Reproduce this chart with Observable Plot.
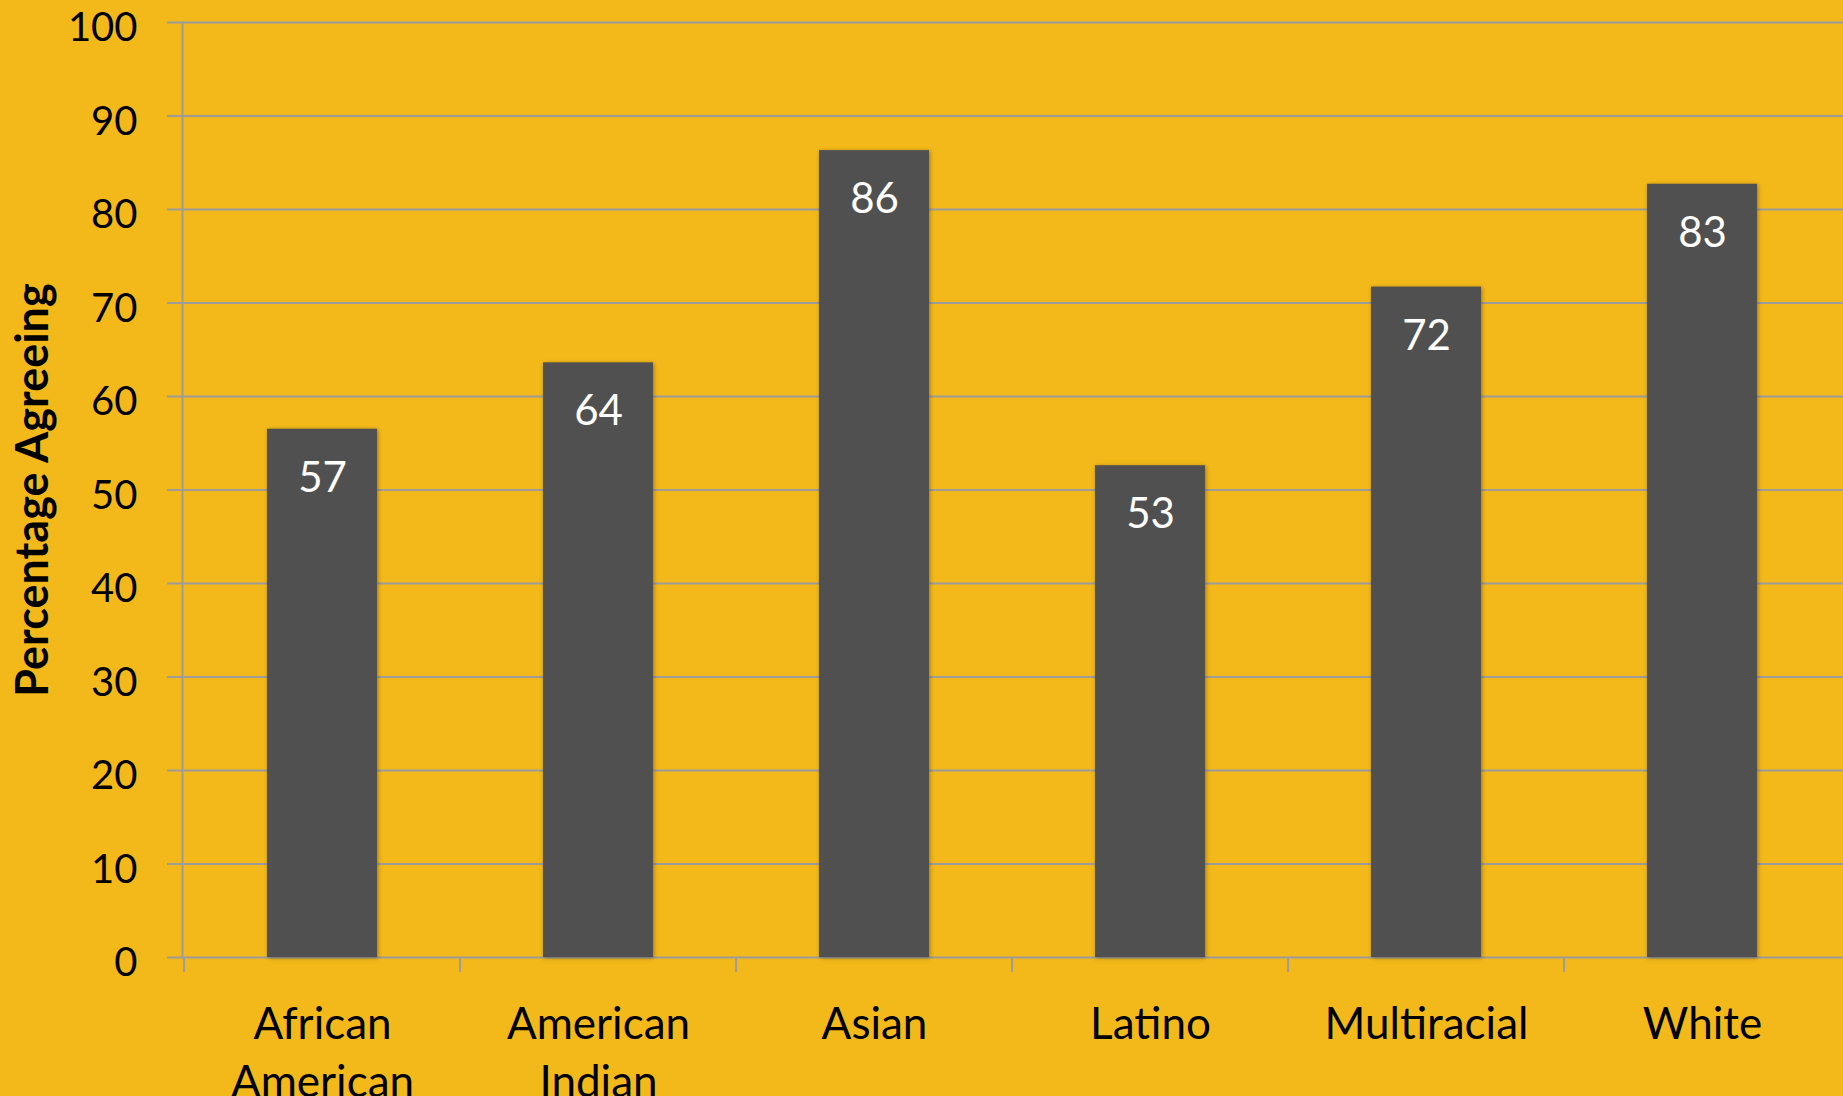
<!DOCTYPE html>
<html>
<head>
<meta charset="utf-8">
<script src="https://cdn.jsdelivr.net/npm/d3@7"></script>
<script src="https://cdn.jsdelivr.net/npm/@observablehq/plot@0.6"></script>
<style>
  html, body { margin: 0; padding: 0; background: #F3B91A; }
  .bars rect { filter: drop-shadow(1px 1px 2px rgba(0,0,0,0.35)); }
</style>
</head>
<body>
<div id="chart"></div>
<script>
const categories = ["African American", "American Indian", "Asian", "Latino", "Multiracial", "White"];
const tickLabels = ["African\nAmerican", "American\nIndian", "Asian", "Latino", "Multiracial", "White"];
const values = [56.5, 63.6, 86.3, 52.6, 71.7, 82.7];
const valueLabels = ["57", "64", "86", "53", "72", "83"];
const yTicks = [0, 10, 20, 30, 40, 50, 60, 70, 80, 90, 100];
const yLabel = ["Percentage Agreeing"];

const W = 1843, H = 1096, mL = 182, mR = 0, mT = 22, mB = 139;
const bw = (W - mL - mR) / categories.length;
const gridColor = "#9c9c9c";

const data = categories.map((c, i) => ({category: c, value: values[i], label: valueLabels[i]}));

const chart = Plot.plot({
  width: W, height: H,
  marginLeft: mL, marginRight: mR, marginTop: mT, marginBottom: mB,
  style: {background: "#F3B91A", fontFamily: "Lato, sans-serif", color: "#000", overflow: "visible"},
  x: {domain: categories, paddingInner: 0.6, paddingOuter: 0.3, label: null},
  y: {domain: [0, 100], label: null},
  marks: [
    Plot.gridY(yTicks, {stroke: gridColor, strokeOpacity: 1, strokeWidth: 2, insetLeft: -15}),
    Plot.frame({anchor: "left", stroke: gridColor, strokeWidth: 2}),
    Plot.ruleX(categories, {x: d => d, y1: 0, y2: 0, dx: -bw / 2, insetBottom: -15, stroke: gridColor, strokeWidth: 2}),
    Plot.barY(data, {x: "category", y: "value", fill: "#505050", className: "bars"}),
    Plot.text(data, {x: "category", y: "value", text: "label", fill: "white", fontSize: 42, dy: 49, lineAnchor: "middle"}),
    Plot.axisY(yTicks, {tickSize: 0, tickPadding: 45, fontSize: 40, dy: 6, tickFormat: d => String(d), label: null}),
    Plot.axisX({tickSize: 0, tickPadding: 40, fontSize: 44, lineHeight: 1.32, tickFormat: d => tickLabels[categories.indexOf(d)], label: null}),
    Plot.text(yLabel, {text: d => d, frameAnchor: "left", textAnchor: "middle", dx: -149, rotate: -90, fontWeight: "bold", fontSize: 45, lineAnchor: "middle"})
  ]
});
document.getElementById("chart").appendChild(chart);
</script>
</body>
</html>
